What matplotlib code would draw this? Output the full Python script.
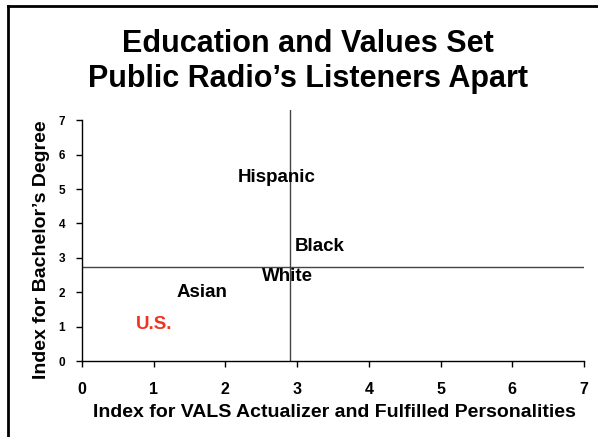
import matplotlib
matplotlib.use("Agg")
import matplotlib.pyplot as plt
from matplotlib.lines import Line2D

plt.rcParams['font.family'] = ['Liberation Sans', 'DejaVu Sans']

groups = ["Hispanic", "Black", "White", "Asian", "U.S."]
vals_index = [2.72, 3.31, 2.86, 1.67, 1.01]
bach_index = [5.35, 3.34, 2.47, 1.98, 1.05]
label_colors = ["black", "black", "black", "black", "#EE3322"]
ref_x = 2.9
ref_y = 2.73
ticks = [0, 1, 2, 3, 4, 5, 6, 7]

fig = plt.figure(figsize=(5.98, 4.37), dpi=100)
ax = fig.add_axes([82/598, 1-361/437, (584-82)/598, (361-110)/437])
ax.set_xlim(0, 7)
ax.set_ylim(0, 7.3)

for g, x, y, c in zip(groups, vals_index, bach_index, label_colors):
    ax.text(x, y, g, ha='center', va='center', fontsize=13.5, fontweight='bold', color=c)

ax.axvline(ref_x, color='#444444', lw=1.0)
ax.axhline(ref_y, color='#444444', lw=1.0)

ax.set_xticks(ticks)
ax.set_yticks(ticks)
ax.set_xticklabels([str(t) for t in ticks], fontsize=11.5, fontweight='bold')
ax.set_yticklabels([str(t) for t in ticks], fontsize=8.5, fontweight='bold')
ax.tick_params(axis='x', direction='out', length=4, width=1, pad=11)
ax.tick_params(axis='y', direction='out', length=4, width=1, pad=8)
for s in ['top', 'right']:
    ax.spines[s].set_visible(False)
ax.spines['left'].set_bounds(0, 7)
ax.spines['left'].set_linewidth(1)
ax.spines['bottom'].set_linewidth(1)

ax.set_xlabel("Index for VALS Actualizer and Fulfilled Personalities", fontsize=14, fontweight='bold')
ax.set_ylabel("Index for Bachelor\u2019s Degree", fontsize=14, fontweight='bold')
ax.xaxis.set_label_coords((334-82)/502, -(404-361)/251)
ax.yaxis.set_label_coords(-(82-50)/502, (361-250)/251)

fig.text(308/598, 1-44/437, "Education and Values Set", ha='center', va='center', fontsize=22, fontweight='bold')
fig.text(308/598, 1-79/437, "Public Radio\u2019s Listeners Apart", ha='center', va='center', fontsize=22, fontweight='bold')

fig.add_artist(Line2D([8/598, 1.0], [1-6/437, 1-6/437], transform=fig.transFigure, color='black', lw=2))
fig.add_artist(Line2D([8/598, 8/598], [0, 1-6/437], transform=fig.transFigure, color='black', lw=2))

fig.savefig("out.png", dpi=100)
